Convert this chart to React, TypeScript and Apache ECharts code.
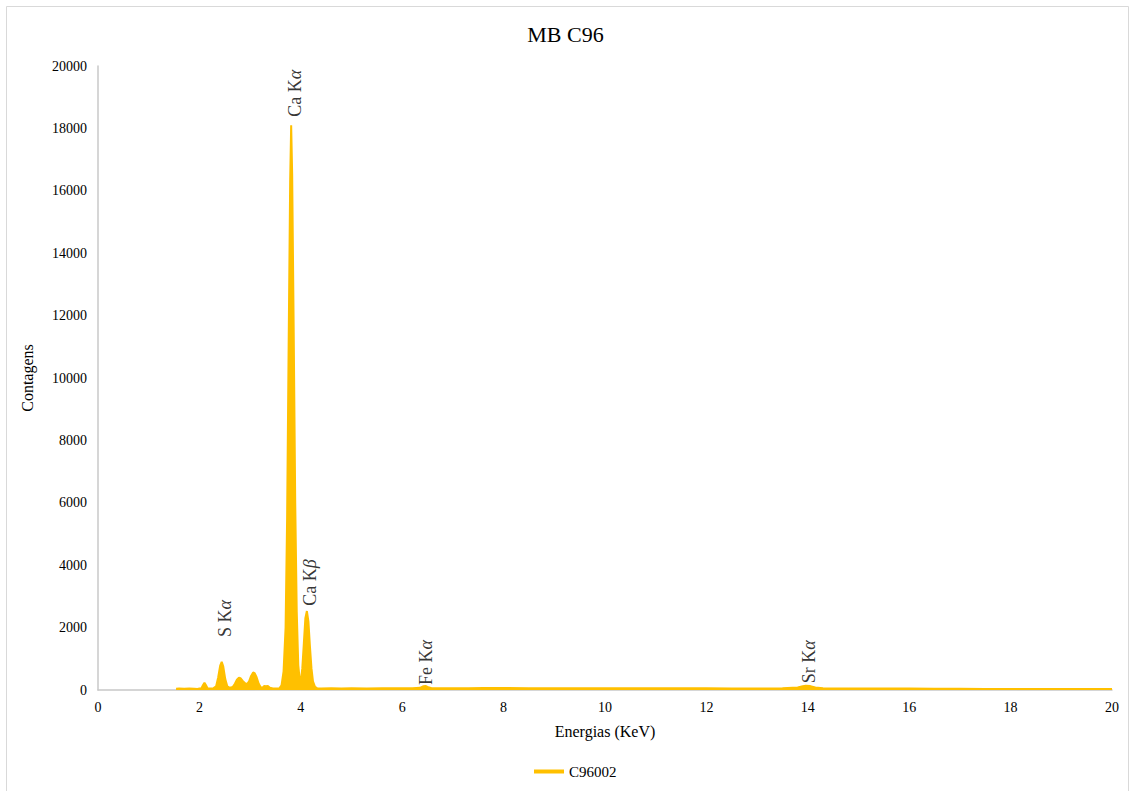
import React, { useEffect, useRef } from "react";
import * as echarts from "echarts";

const titleText = "MB C96";
const seriesName = "C96002";
const xTicks = { min: 0, max: 20, interval: 2 };
const yTicks = { min: 0, max: 20000, interval: 2000 };

const energies = [
  1.54, 1.6, 1.7, 1.8, 1.9, 1.96, 2.0, 2.04, 2.07, 2.1, 2.13, 2.16, 2.22, 2.28,
  2.33, 2.37, 2.41, 2.44, 2.47, 2.51, 2.55, 2.6, 2.66, 2.7, 2.74, 2.78, 2.81,
  2.85, 2.9, 2.94, 2.98, 3.02, 3.06, 3.09, 3.13, 3.17, 3.21, 3.25, 3.28, 3.31,
  3.35, 3.39, 3.45, 3.52, 3.58,
  3.62, 3.66, 3.7, 3.73, 3.76, 3.79, 3.81, 3.83, 3.86, 3.89, 3.92, 3.95, 3.98,
  4.0, 4.03, 4.06, 4.09, 4.12, 4.15, 4.18, 4.21, 4.24, 4.28, 4.32,
  4.4, 4.6, 4.8, 5.0, 5.3, 5.6, 5.9, 6.2, 6.35, 6.42, 6.46, 6.5, 6.58, 6.8,
  7.0, 7.3, 7.6, 8.0, 8.5, 9.0, 9.5, 10.0, 10.5, 11.0, 11.5, 12.0, 12.5, 13.0,
  13.5, 13.8, 13.9, 13.96, 14.05, 14.15, 14.3, 14.8, 15.5, 16.0, 16.5, 17.0,
  17.5, 18.0, 18.5, 19.0, 19.5, 20.0,
];

const counts = [
  40, 45, 40, 45, 40, 30, 45, 60, 150, 235, 150, 60, 50, 60,
  120, 400, 780, 900, 760, 350, 120, 70, 100, 200, 330, 395, 380,
  300, 220, 190, 280, 450, 560, 540, 400, 200, 90, 80, 130, 120,
  130, 70, 50, 45, 60,
  150, 600, 2000, 5500, 11000, 16300, 18100, 16500, 11500, 6000, 2500, 800, 300,
  250, 700, 1500, 2300, 2530, 2200, 1400, 700, 280, 100, 60,
  50, 60, 45, 55, 50, 60, 55, 60, 70, 120, 130, 100, 60, 55,
  60, 60, 65, 65, 60, 60, 60, 60, 55, 55, 55, 55, 50, 50,
  55, 80, 120, 135, 125, 80, 55, 50, 45, 45, 40, 40,
  35, 35, 30, 30, 30, 30,
];

const peakNames = ["S K", "Ca K", "Ca K", "Fe K", "Sr K"];
const peakGreek = ["α", "α", "β", "α", "α"];
const peakLabelEnergy = [2.5, 3.89, 4.18, 6.47, 14.02];
const peakLabelCounts = [1700, 18370, 2700, 160, 220];

const FONT = "Liberation Serif";

export default function App() {
  const ref = useRef<HTMLDivElement>(null);
  useEffect(() => {
    if (!ref.current) return;
    const chart = echarts.init(ref.current, null, { renderer: "svg" });
    const lineData = energies.map((e, i) => [e, counts[i]]);
    const labelData = peakNames.map((n, i) => ({
      value: [peakLabelEnergy[i], peakLabelCounts[i]],
      name: n,
      greek: peakGreek[i],
    }));
    chart.setOption({
      animation: false,
      backgroundColor: "#ffffff",
      textStyle: { fontFamily: FONT },
      graphic: [
        {
          type: "rect",
          shape: { x: 6.5, y: 6.5, width: 1122, height: 800 },
          style: { fill: "none", stroke: "#d9d9d9", lineWidth: 1 },
          silent: true,
          z: -10,
        },
      ],
      title: {
        text: titleText,
        left: "center",
        top: 18,
        textStyle: { fontFamily: FONT, fontSize: 22, fontWeight: "normal", color: "#000" },
      },
      legend: {
        left: 529,
        top: 759,
        icon: "rect",
        itemWidth: 30,
        itemHeight: 4,
        itemGap: 10,
        textStyle: { fontFamily: FONT, fontSize: 15, color: "#000" },
        data: [seriesName],
      },
      grid: { left: 98, right: 19, top: 66, bottom: 101, containLabel: false },
      xAxis: {
        type: "value",
        min: xTicks.min,
        max: xTicks.max,
        interval: xTicks.interval,
        name: "Energias (KeV)",
        nameLocation: "middle",
        nameGap: 33,
        nameTextStyle: { fontFamily: FONT, fontSize: 16, color: "#000" },
        axisLine: { show: true, lineStyle: { color: "#c8c8c8", width: 1.5 } },
        axisTick: { show: false },
        splitLine: { show: false },
        axisLabel: { fontFamily: FONT, fontSize: 14, color: "#000", margin: 10 },
      },
      yAxis: {
        type: "value",
        min: yTicks.min,
        max: yTicks.max,
        interval: yTicks.interval,
        name: "Contagens",
        nameLocation: "middle",
        nameGap: 63,
        nameTextStyle: { fontFamily: FONT, fontSize: 16, color: "#000" },
        axisLine: { show: true, lineStyle: { color: "#c8c8c8", width: 1.5 } },
        axisTick: { show: false },
        splitLine: { show: false },
        axisLabel: {
          fontFamily: FONT,
          fontSize: 14,
          color: "#000",
          margin: 11,
          formatter: (v: number) => String(v),
        },
      },
      series: [
        {
          name: seriesName,
          type: "line",
          data: lineData,
          showSymbol: false,
          symbol: "none",
          lineStyle: { color: "#FFC000", width: 2 },
          itemStyle: { color: "#FFC000" },
          areaStyle: { color: "#FFC000", opacity: 1 },
          z: 3,
        },
        {
          name: "labels",
          type: "scatter",
          data: labelData,
          symbolSize: 0,
          silent: true,
          z: 5,
          label: {
            show: true,
            position: "inside",
            rotate: 90,
            align: "left",
            verticalAlign: "middle",
            formatter: (p: any) => `{a|${p.data.name}}{b|${p.data.greek}}`,
            rich: {
              a: { fontFamily: FONT, fontSize: 18, color: "#000" },
              b: { fontFamily: FONT, fontSize: 18, color: "#000", fontStyle: "italic" },
            },
          },
        },
      ],
    });
    return () => chart.dispose();
  }, []);
  return (
    <div
      ref={ref}
      style={{ position: "fixed", left: 0, top: 0, width: 1131, height: 791 }}
    />
  );
}
